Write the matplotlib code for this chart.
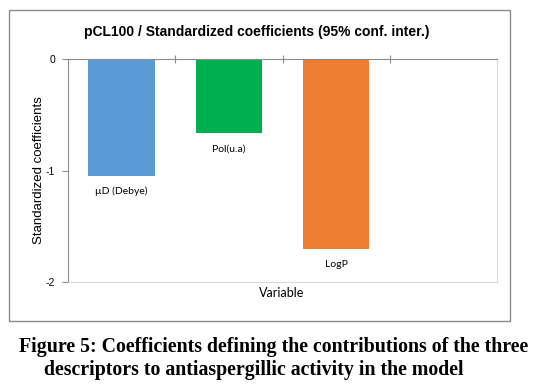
import matplotlib.pyplot as plt
from matplotlib.patches import Rectangle

variables = ['µD (Debye)', 'Pol(u.a)', 'LogP']
coefficients = [-1.044, -0.658, -1.70]
bar_colors = ['#5B9BD5', '#00B050', '#ED7D31']
y_ticks = [0, -1, -2]

W, H = 547, 386
fig = plt.figure(figsize=(W / 100, H / 100), dpi=100)

# outer chart frame
fig.patches.append(Rectangle((9 / W, 1 - 321 / H), (510 - 9) / W, (321 - 10) / H,
                             transform=fig.transFigure, fill=False,
                             edgecolor='#8c8c8c', linewidth=1.0))

ax = fig.add_axes([67.7 / W, 1 - 282.3 / H, 429.6 / W, 223 / H])
x = range(len(variables))
ax.bar(x, coefficients, width=0.62, color=bar_colors)
ax.set_xlim(-0.5, 3.5)
ax.set_ylim(-2, 0)

# category boundary ticks on the zero line (top)
ax.xaxis.tick_top()
ax.set_xticks([0.5, 1.5, 2.5])
ax.set_xticklabels([])
ax.tick_params(axis='x', direction='inout', length=6, color='#8c8c8c', width=0.8)
ax.set_yticks(y_ticks)
ax.set_yticklabels([str(t) for t in y_ticks], fontfamily='Liberation Sans', fontsize=7.5)
ax.tick_params(axis='y', direction='out', length=4, color='#8c8c8c', width=0.8, pad=5)

ax.spines['top'].set_color('#8c8c8c')
ax.spines['left'].set_color('#8c8c8c')
ax.spines['bottom'].set_color('#d9d9d9')
ax.spines['right'].set_color('#d9d9d9')
for s in ax.spines.values():
    s.set_linewidth(0.8)

for xi, v, lab in zip(x, coefficients, variables):
    ax.annotate(lab, (xi, v), xytext=(0, -16), textcoords='offset pixels',
                ha='center', va='center', fontfamily='Lato', fontsize=7.5)

fig.text(257 / W, 1 - 32 / H, 'pCL100 / Standardized coefficients (95% conf. inter.)',
         ha='center', va='center', fontfamily='Liberation Sans', fontweight='bold', fontsize=10)
fig.text(39 / W, 1 - 170 / H, 'Standardized coefficients', rotation=90,
         ha='center', va='center', fontfamily='Liberation Sans', fontsize=9.5)
fig.text(282 / W, 1 - 293 / H, 'Variable', ha='center', va='center',
         fontfamily='Lato', fontsize=9)

fig.text(274 / W, 1 - 347 / H, 'Figure 5: Coefficients defining the contributions of the three',
         ha='center', va='center', fontfamily='Liberation Serif', fontweight='bold', fontsize=14.3)
fig.text(254 / W, 1 - 370 / H, 'descriptors to antiaspergillic activity in the model',
         ha='center', va='center', fontfamily='Liberation Serif', fontweight='bold', fontsize=14.3)

fig.savefig('out.png', dpi=100)
